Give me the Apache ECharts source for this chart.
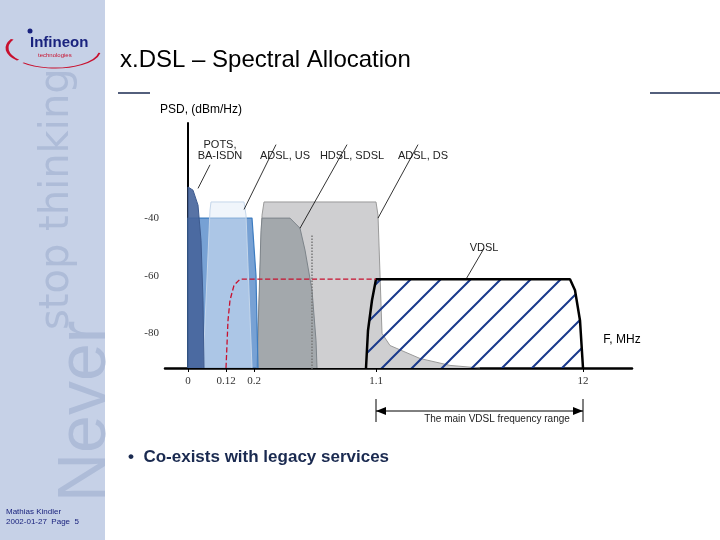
<!DOCTYPE html><html><head><meta charset="utf-8">
<script src="https://cdn.jsdelivr.net/npm/echarts@6/dist/echarts.min.js"></script>
<style>html,body{margin:0;padding:0;background:#fff}#c{width:720px;height:540px}</style></head><body><div id="c"></div>
<script>
// x values are positions on the schematic (not-to-scale) frequency axis
const tickPos = [0, 38, 66, 188, 395];
const tickLabels = ['0', '0.12', '0.2', '1.1', '12'];
const yTicks = [-40, -60, -80];
const potsX = [0, 0, 5, 10, 13, 15, 16];
const potsY = [-92, -29.2, -30.3, -35.5, -47.7, -68.5, -92];
const paleX = [15, 22, 23, 56, 58, 64];
const paleY = [-92, -37.2, -34.4, -34.4, -39, -92];
const usX = [0, 0, 64, 68, 70];
const usY = [-92, -40, -40, -60, -92];
const hdslX = [69, 73, 74, 102, 112, 117, 124, 128, 129];
const hdslY = [-92, -44.2, -40, -40, -43.5, -51.1, -65, -82.4, -92];
const dsX = [69, 74, 76, 188, 190, 194, 202, 232, 262, 292];
const dsY = [-92, -39, -34.4, -34.4, -39, -80, -84.2, -88.7, -91.1, -92];
const vdslX = [178, 180, 184, 188, 382, 387, 392, 395];
const vdslY = [-92, -79, -68.5, -61.2, -61.2, -65, -75.5, -92];
const maskX = [38, 40, 42, 46, 52, 188];
const maskY = [-92, -75.5, -68.5, -63.3, -61.2, -61.2];
const rangeX = [188, 395]; // main VDSL range: 1.1 .. 12 MHz

const zip = (xs, ys) => xs.map((x, i) => [x, ys[i]]);
const pc = document.createElement('canvas'); pc.width = 30; pc.height = 30;
const g = pc.getContext('2d'); g.strokeStyle = '#1a3a8c'; g.lineWidth = 2;
g.beginPath(); g.moveTo(-2, 32); g.lineTo(32, -2); g.moveTo(-17, 17); g.lineTo(17, -17); g.moveTo(13, 47); g.lineTo(47, 13); g.stroke();

function area(name, data, fill, stroke, lw, z) {
  return {type: 'line', name, data, symbol: 'none', z, lineStyle: {color: stroke, width: lw}, areaStyle: {color: fill, opacity: 1, origin: 'start'}, silent: true};
}
function seg(data, color, w, type) {
  return {type: 'line', data, symbol: 'none', z: 20, lineStyle: {color, width: w, type: type || 'solid'}, silent: true};
}
const chart = echarts.init(document.getElementById('c'));
const graphics = [
    {type: 'rect', z: -10, shape: {x: 0, y: 0, width: 105, height: 540}, style: {fill: '#c6d1e7'}},
    {type: 'text', z: -9, x: 52, y: 502, rotation: Math.PI / 2, style: {text: 'Never', font: '68px "Liberation Sans"', fill: '#aebcd8', textBaseline: 'bottom'}},
    {type: 'text', z: -9, x: 38, y: 330, rotation: Math.PI / 2, style: {text: 'stop thinking', font: '40px "DejaVu Sans"', fill: '#aebcd8', textBaseline: 'bottom'}},
    {type: 'arc', shape: {cx: 55, cy: 48, r: 48, startAngle: Math.PI * 0.78, endAngle: Math.PI * 1.15}, style: {stroke: '#c8102e', lineWidth: 3, fill: null}, scaleY: 0.4, originY: 48},
    {type: 'arc', shape: {cx: 55, cy: 50, r: 45, startAngle: Math.PI * 0.05, endAngle: Math.PI * 0.75}, style: {stroke: '#c8102e', lineWidth: 2, fill: null}, scaleY: 0.4, originY: 50},
    {type: 'circle', shape: {cx: 30, cy: 31, r: 2.5}, style: {fill: '#1a237e'}},
    {type: 'text', x: 30, y: 35, style: {text: 'Infineon', font: 'bold 15px "Liberation Sans Narrow", "Liberation Sans"', fill: '#1a237e'}},
    {type: 'text', x: 38, y: 52, style: {text: 'technologies', font: '6px "Liberation Sans"', fill: '#c8102e'}},
    {type: 'text', x: 6, y: 507, style: {text: 'Mathias Kindler\n2002-01-27  Page  5', font: '8px "Liberation Sans"', fill: '#1a237e', lineHeight: 10}},
    {type: 'line', z: -8, shape: {x1: 118, y1: 93, x2: 720, y2: 93}, style: {stroke: '#1a2a50', lineWidth: 1.5}},
    {type: 'rect', z: -7, shape: {x: 150, y: 90, width: 500, height: 338}, style: {fill: '#fff'}},
    {type: 'text', x: 120, y: 48, style: {text: 'x.DSL – Spectral Allocation', font: '24px "Liberation Sans"', fill: '#000'}},
    {type: 'text', x: 128, y: 449, style: {text: '•  Co-exists with legacy services', font: 'bold 17px "Liberation Sans"', fill: '#1a2a50'}},
    {type: 'text', x: 160, y: 104, style: {text: 'PSD, (dBm/Hz)', font: '12px "Liberation Sans"', fill: '#000'}},
    {type: 'text', x: 220, y: 139, style: {text: 'POTS,\nBA-ISDN', font: '11px "Liberation Sans"', fill: '#222', align: 'center', lineHeight: 11}},
    {type: 'text', x: 285, y: 150, style: {text: 'ADSL, US', font: '11px "Liberation Sans"', fill: '#222', align: 'center'}},
    {type: 'text', x: 352, y: 150, style: {text: 'HDSL, SDSL', font: '11px "Liberation Sans"', fill: '#222', align: 'center'}},
    {type: 'text', x: 423, y: 150, style: {text: 'ADSL, DS', font: '11px "Liberation Sans"', fill: '#222', align: 'center'}},
    {type: 'text', x: 484, y: 242, style: {text: 'VDSL', font: '11px "Liberation Sans"', fill: '#222', align: 'center'}},
    {type: 'text', x: 622, y: 334, style: {text: 'F, MHz', font: '12px "Liberation Sans"', fill: '#000', align: 'center'}},
    {type: 'text', x: 497, y: 414, style: {text: 'The main VDSL frequency range', font: '10px "Liberation Sans"', fill: '#222', align: 'center'}}
];
chart.setOption({
  animation: false,
  grid: {left: 165, right: 88, top: 123, bottom: 172},
  xAxis: {type: 'value', min: -23, max: 444, axisLine: {lineStyle: {color: '#000', width: 2.5}},
    axisTick: {customValues: tickPos, lineStyle: {color: '#000'}, length: 4},
    axisLabel: {customValues: tickPos, formatter: v => tickLabels[tickPos.indexOf(v)], fontFamily: 'Liberation Serif', fontSize: 11, color: '#333'},
    splitLine: {show: false}},
  yAxis: {type: 'value', min: -92, max: -7, axisLine: {show: true, onZero: true, lineStyle: {color: '#000', width: 2}},
    axisTick: {show: false}, axisLabel: {customValues: yTicks, fontFamily: 'Liberation Serif', fontSize: 11, color: '#333', margin: 6},
    splitLine: {show: false}},
  series: [
    area('ADSL DS', zip(dsX, dsY), '#cfcfd1', '#9a9a9a', 1, 2),
    area('HDSL', zip(hdslX, hdslY), '#a3a8ac', '#7d848a', 1, 3),
    area('ADSL US', zip(usX, usY), 'rgba(95,145,205,0.85)', '#3d7cc0', 1.2, 4),
    area('pale', zip(paleX, paleY), 'rgba(225,235,248,0.5)', '#c5d6ea', 1, 5),
    area('POTS', zip(potsX, potsY), 'rgba(70,100,155,0.9)', '#3e5b8f', 1, 6),
    area('VDSL', zip(vdslX, vdslY), {image: pc, repeat: 'repeat'}, '#000', 2.5, 8),
    seg(zip(maskX, maskY), '#c8102e', 1.3, 'dashed'),
    seg([[124, -46], [124, -94]], '#777', 1.5, 'dotted'),
    seg([[10, -29.7], [22, -21.5]], '#000', 0.8),
    seg([[56, -37], [88, -14.5]], '#000', 0.8),
    seg([[112, -43.5], [159, -14.5]], '#000', 0.8),
    seg([[190, -40], [230, -14.5]], '#000', 0.8),
    seg([[278, -61.2], [296, -50.5]], '#000', 0.8)
  ],
  graphic: graphics
});
// range arrow below the axis, positioned through the x scale
const xa = chart.convertToPixel({xAxisIndex: 0}, rangeX[0]);
const xb = chart.convertToPixel({xAxisIndex: 0}, rangeX[1]);
const ay = 411;
graphics.push(
  {type: 'line', shape: {x1: xa, y1: ay, x2: xb, y2: ay}, style: {stroke: '#000', lineWidth: 1}},
  {type: 'line', shape: {x1: xa, y1: 399, x2: xa, y2: 422}, style: {stroke: '#000', lineWidth: 1}},
  {type: 'line', shape: {x1: xb, y1: 399, x2: xb, y2: 422}, style: {stroke: '#000', lineWidth: 1}},
  {type: 'polygon', shape: {points: [[xa, ay], [xa + 10, ay - 4], [xa + 10, ay + 4]]}, style: {fill: '#000'}},
  {type: 'polygon', shape: {points: [[xb, ay], [xb - 10, ay - 4], [xb - 10, ay + 4]]}, style: {fill: '#000'}}
);
chart.setOption({graphic: graphics}, {replaceMerge: ['graphic']});
</script></body></html>
